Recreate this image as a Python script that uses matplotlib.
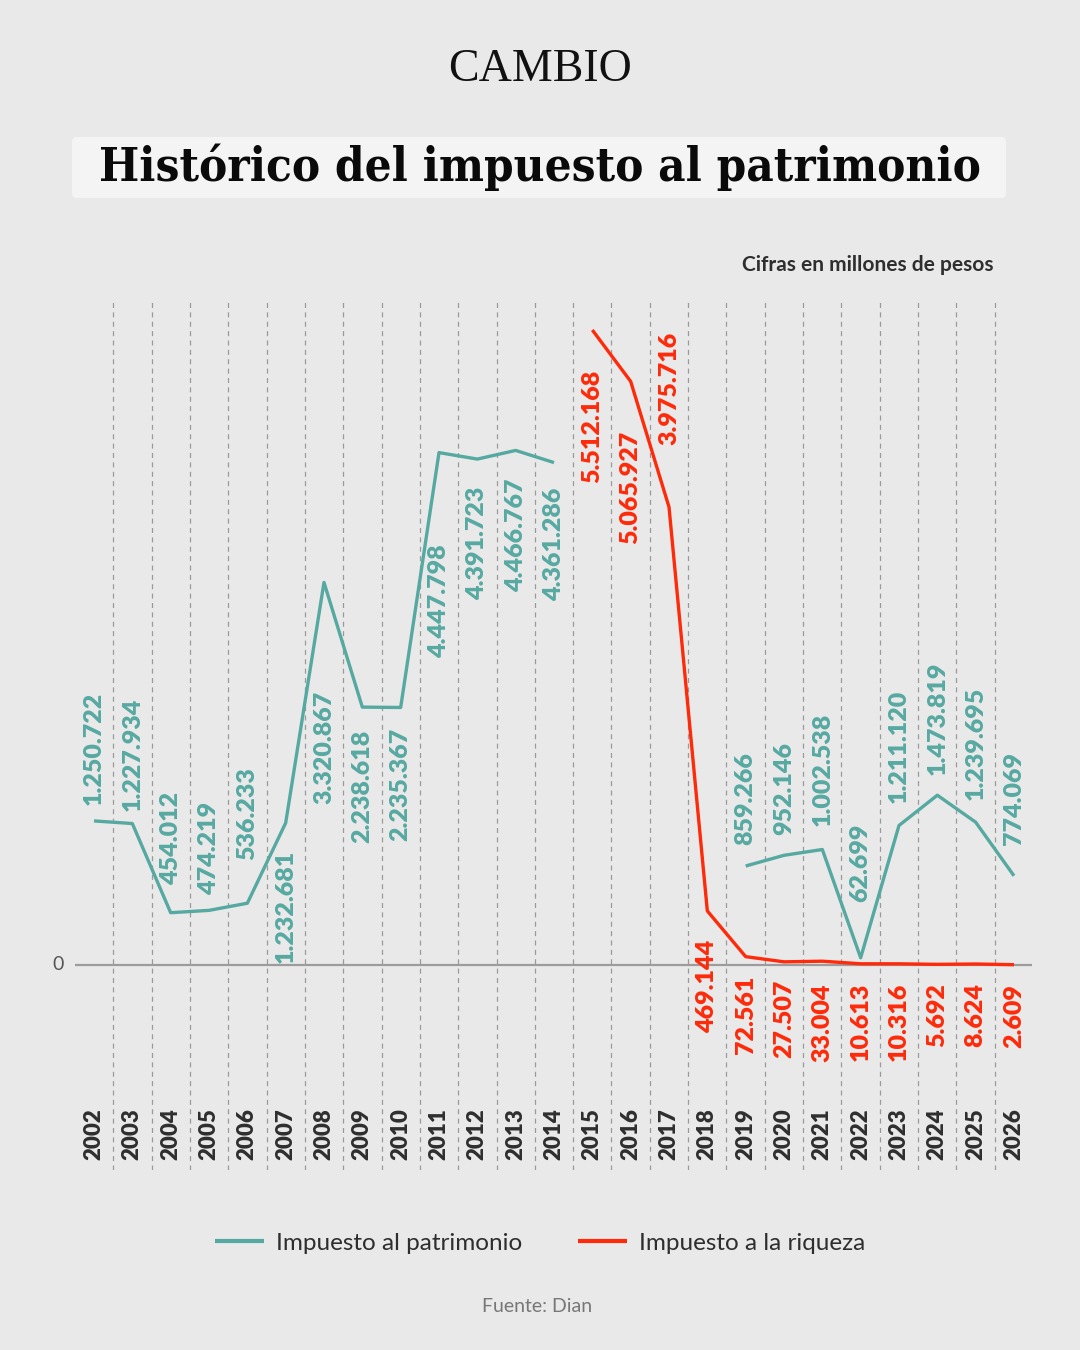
import numpy as np
import matplotlib
matplotlib.use("Agg")
import matplotlib.pyplot as plt
from matplotlib.patches import FancyBboxPatch

# Data (millones de pesos)
years = list(range(2002, 2027))

patrimonio_years_a = [2002, 2003, 2004, 2005, 2006, 2007, 2008, 2009, 2010,
                      2011, 2012, 2013, 2014]
patrimonio_a = [1250722, 1227934, 454012, 474219, 536233, 1232681, 3320867,
                2238618, 2235367, 4447798, 4391723, 4466767, 4361286]
patrimonio_years_b = [2019, 2020, 2021, 2022, 2023, 2024, 2025, 2026]
patrimonio_b = [859266, 952146, 1002538, 62699, 1211120, 1473819, 1239695, 774069]

riqueza_years = [2015, 2016, 2017, 2018, 2019, 2020, 2021, 2022, 2023, 2024,
                 2025, 2026]
riqueza = [5512168, 5065927, 3975716, 469144, 72561, 27507, 33004, 10613,
           10316, 5692, 8624, 2609]

# label offsets in pixels (positive = above the point, negative = below)
off_pat_a = [16, 13, 28, 15, 43, -27, -108, -23, -20, -92, -28, -28, -25]
off_pat_b = [21, 20, 24, 56, 22, 20, 22, 31]
off_riq = [-40, -49, 62, -29, -19, -18, -22, -19, -19, -19, -19, -19]

TEAL = "#56a9a1"
RED = "#ff2a0a"
BG = "#e9e9e9"
DARK = "#2e2e2e"

def fmt(v):
    return f"{v:,}".replace(",", ".")

W, H = 1080, 1350
fig = plt.figure(figsize=(W / 100, H / 100), dpi=100)
fig.patch.set_facecolor(BG)

# axes placement (pixels)
x0, x1 = 75, 1032
ytop, ybot, yzero = 302, 1170, 965
px_per_unit = 115.2 / 1e6

ax = fig.add_axes([x0 / W, 1 - ybot / H, (x1 - x0) / W, (ybot - ytop) / H])
ax.set_facecolor("none")
ax.set_xlim(2002 - (94 - x0) / 38.33, 2026 + (x1 - 1014) / 38.33)
ax.set_ylim(-(ybot - yzero) / px_per_unit, (yzero - ytop) / px_per_unit)
for s in ax.spines.values():
    s.set_visible(False)
ax.set_xticks([])
ax.set_yticks([])

# vertical dashed separators between years
for yr in years[:-1]:
    ax.axvline(yr + 0.5, color="#9a9a9a", lw=0.9, ls=(0, (4, 3.5)), zorder=1)

ax.axhline(0, color="#9c9c9c", lw=1.6, zorder=2)

l1, = ax.plot(patrimonio_years_a, patrimonio_a, color=TEAL, lw=2.4,
              solid_capstyle="butt", zorder=3, label="Impuesto al patrimonio")
ax.plot(patrimonio_years_b, patrimonio_b, color=TEAL, lw=2.4,
        solid_capstyle="butt", zorder=3)
l2, = ax.plot(riqueza_years, riqueza, color=RED, lw=2.4,
              solid_capstyle="butt", zorder=4, label="Impuesto a la riqueza")

def label(xs, vs, offs, color):
    for x, v, o in zip(xs, vs, offs):
        ax.annotate(fmt(v), (x, v), xytext=(0, o), textcoords="offset pixels",
                    rotation=90, ha="center", va="bottom" if o > 0 else "top",
                    fontsize=18, fontweight="heavy", color=color,
                    family="Lato", zorder=5)

label(patrimonio_years_a, patrimonio_a, off_pat_a, TEAL)
label(patrimonio_years_b, patrimonio_b, off_pat_b, TEAL)
label(riqueza_years, riqueza, off_riq, RED)

# year labels
for yr in years:
    ax.text(yr, -(1108 - yzero) / px_per_unit, str(yr), rotation=90,
            ha="center", va="top", fontsize=16, fontweight="heavy",
            color=DARK, family="Lato")

fig.text(58 / W, 1 - yzero / H, "0", ha="center", va="center",
         fontsize=14, color="#555555", family="Lato")

# header
fig.text(0.5, 1 - 70 / H, "CAMBIO", ha="center", va="center",
         fontsize=33, color="#111111", family="Liberation Serif")
box = FancyBboxPatch((72 / W, 1 - 198 / H), (1006 - 72) / W, (198 - 137) / H,
                     boxstyle="round,pad=0,rounding_size=0.004",
                     transform=fig.transFigure, facecolor="#f4f4f4",
                     edgecolor="none", zorder=0)
fig.patches.append(box)
fig.text(0.5, 1 - 167 / H, "Histórico del impuesto al patrimonio",
         ha="center", va="center", fontsize=34, fontweight="bold",
         fontstretch="condensed", color="#0a0a0a", family="DejaVu Serif")
fig.text(993 / W, 1 - 265 / H, "Cifras en millones de pesos", ha="right",
         va="center", fontsize=15, fontweight="bold", color=DARK,
         family="Lato")

# legend
leg = fig.legend(handles=[l1, l2], loc="center", ncol=2,
                 bbox_to_anchor=(0.5, 1 - 1243 / H), frameon=False,
                 handlelength=2.0, handletextpad=0.5, columnspacing=2.3,
                 prop={"family": "Lato", "size": 17.5})
for t in leg.get_texts():
    t.set_color(DARK)
for h in leg.legend_handles:
    h.set_linewidth(3)

fig.text(537 / W, 1 - 1307 / H, "Fuente: Dian", ha="center", va="center",
         fontsize=14, color="#777777", family="Lato")

fig.savefig("out.png", dpi=100, facecolor=BG)
